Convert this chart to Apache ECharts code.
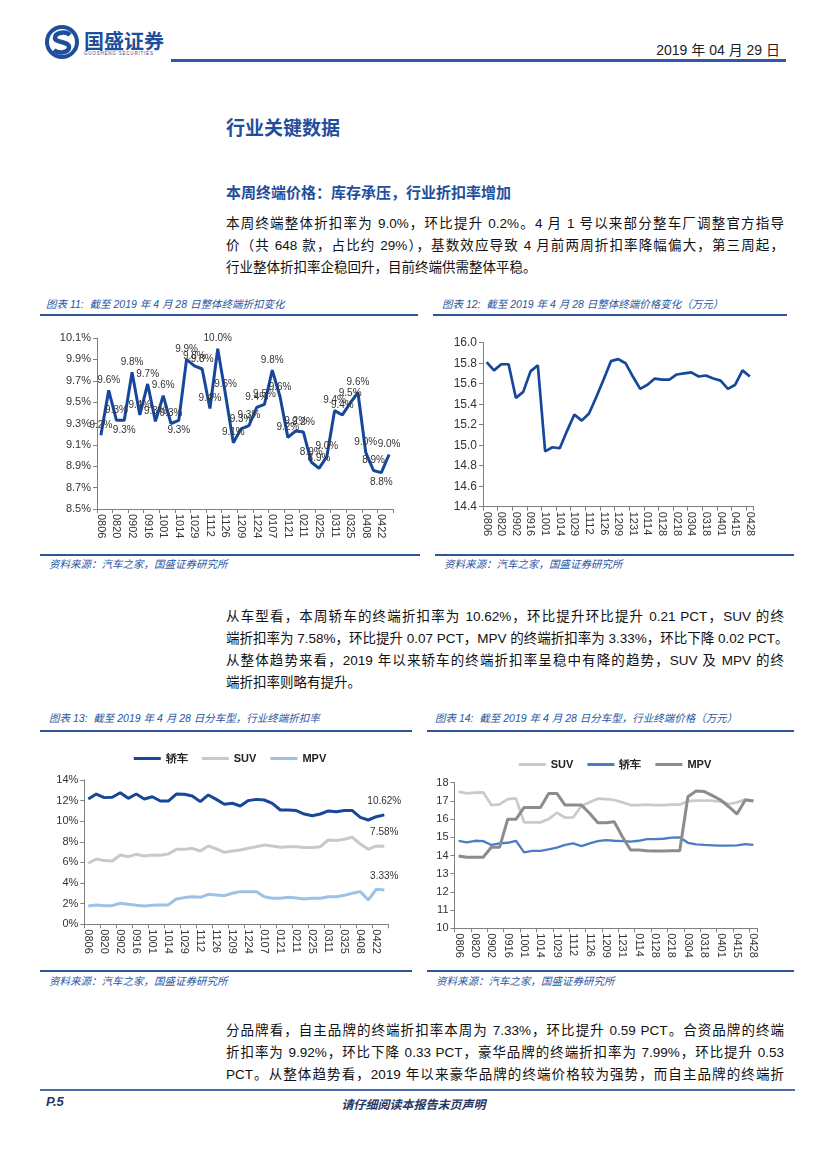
<!DOCTYPE html>
<html><head><meta charset="utf-8">
<script src="https://cdn.jsdelivr.net/npm/echarts@6/dist/echarts.min.js"></script>
<style>
html,body{margin:0;padding:0;background:#fff;}
body{width:827px;height:1169px;position:relative;overflow:hidden;font-family:"Liberation Sans","Noto Sans CJK SC",sans-serif;color:#111;}
.abs{position:absolute;}
.h1{left:226px;top:113px;font-size:19px;font-weight:bold;color:#1f4e9c;font-family:"Noto Sans CJK SC",sans-serif;}
.h2{left:226px;top:181px;font-size:15px;font-weight:bold;color:#1f4e9c;font-family:"Noto Sans CJK SC",sans-serif;}
.para{left:226px;width:558px;font-size:13.5px;line-height:22px;}
.para div{text-align:justify;text-align-last:justify;height:22px;white-space:nowrap;}
.para div.last{text-align-last:left;}
.cap{font-size:10.5px;font-style:italic;color:#2a56a0;font-family:"Liberation Sans","Noto Sans CJK SC",sans-serif;}
.src{font-size:10.5px;font-style:italic;color:#2a56a0;}
.line{height:2px;background:#2f5597;}
.chart{position:absolute;}
</style></head><body>

<svg class="abs" style="left:44px;top:24px" width="38" height="38" viewBox="0 0 38 38">
 <circle cx="18" cy="18" r="15" fill="none" stroke="#1f4e9c" stroke-width="4"/>
 <path d="M26 11 C22 7,11 8,11 14 C11 19,25 17,25 23 C25 29,14 30,10 26" fill="none" stroke="#1f4e9c" stroke-width="4.5"/>
</svg>
<div class="abs" style="left:84px;top:26px;font-size:20px;font-weight:bold;color:#1f4e9c;font-family:'Noto Sans CJK SC';letter-spacing:0px;">国盛证券</div>
<div class="abs" style="left:84px;top:51px;font-size:4.5px;color:#1f4e9c;letter-spacing:0.8px;">GUOSHENG SECURITIES</div>
<div class="abs" style="right:47px;top:39px;font-size:14px;color:#222;">2019 年 04 月 29 日</div>
<div class="abs" style="left:171px;top:59px;width:615px;height:3px;background:#2d5aa6;"></div>

<div class="abs h1">行业关键数据</div>
<div class="abs h2">本周终端价格：库存承压，行业折扣率增加</div>

<div class="abs para" style="top:213px;">
<div>本周终端整体折扣率为 9.0%，环比提升 0.2%。4 月 1 号以来部分整车厂调整官方指导</div>
<div>价（共 648 款，占比约 29%），基数效应导致 4 月前两周折扣率降幅偏大，第三周起，</div>
<div class="last">行业整体折扣率企稳回升，目前终端供需整体平稳。</div>
</div>

<div class="abs cap" style="left:46px;top:296px;">图表 11:&nbsp; 截至 2019 年 4 月 28 日整体终端折扣变化</div>
<div class="abs line" style="left:40px;top:314px;width:378px;"></div>
<div class="abs cap" style="left:442px;top:296px;">图表 12:&nbsp; 截至 2019 年 4 月 28 日整体终端价格变化（万元）</div>
<div class="abs line" style="left:433px;top:314px;width:354px;"></div>

<div id="c1" class="chart" style="left:40px;top:320px;width:380px;height:232px;"></div>
<div id="c2" class="chart" style="left:430px;top:320px;width:370px;height:232px;"></div>

<div class="abs line" style="left:40px;top:554px;width:380px;"></div>
<div class="abs line" style="left:435px;top:554px;width:359px;"></div>
<div class="abs src" style="left:49px;top:556px;">资料来源：汽车之家，国盛证券研究所</div>
<div class="abs src" style="left:444px;top:556px;">资料来源：汽车之家，国盛证券研究所</div>

<div class="abs para" style="top:606px;">
<div>从车型看，本周轿车的终端折扣率为 10.62%，环比提升环比提升 0.21 PCT，SUV 的终</div>
<div>端折扣率为 7.58%，环比提升 0.07 PCT，MPV 的终端折扣率为 3.33%，环比下降 0.02 PCT。</div>
<div>从整体趋势来看，2019 年以来轿车的终端折扣率呈稳中有降的趋势，SUV 及 MPV 的终</div>
<div class="last">端折扣率则略有提升。</div>
</div>

<div class="abs cap" style="left:49px;top:710px;">图表 13:&nbsp; 截至 2019 年 4 月 28 日分车型，行业终端折扣率</div>
<div class="abs line" style="left:40px;top:730px;width:372px;"></div>
<div class="abs cap" style="left:435px;top:710px;">图表 14:&nbsp; 截至 2019 年 4 月 28 日分车型，行业终端价格（万元）</div>
<div class="abs line" style="left:427px;top:730px;width:367px;"></div>

<div id="c3" class="chart" style="left:40px;top:740px;width:380px;height:228px;"></div>
<div id="c4" class="chart" style="left:430px;top:740px;width:370px;height:228px;"></div>

<div class="abs line" style="left:40px;top:970px;width:372px;"></div>
<div class="abs line" style="left:427px;top:970px;width:367px;"></div>
<div class="abs src" style="left:49px;top:973px;">资料来源：汽车之家，国盛证券研究所</div>
<div class="abs src" style="left:436px;top:973px;">资料来源：汽车之家，国盛证券研究所</div>

<div class="abs para" style="top:1020px;">
<div>分品牌看，自主品牌的终端折扣率本周为 7.33%，环比提升 0.59 PCT。合资品牌的终端</div>
<div>折扣率为 9.92%，环比下降 0.33 PCT，豪华品牌的终端折扣率为 7.99%，环比提升 0.53</div>
<div>PCT。从整体趋势看，2019 年以来豪华品牌的终端价格较为强势，而自主品牌的终端折</div>
</div>

<div class="abs" style="left:40px;top:1089px;width:755px;height:1.5px;background:#4a6fa8;"></div>
<div class="abs" style="left:46px;top:1094px;font-size:13px;font-weight:bold;font-style:italic;color:#1f3864;">P.5</div>
<div class="abs" style="left:0;width:827px;text-align:center;top:1095px;font-size:12px;font-weight:bold;font-style:italic;color:#1f3864;font-family:'Noto Sans CJK SC';">请仔细阅读本报告末页声明</div>

<script>
// ---------- data ----------
const dates38 = ['0806','0813','0820','0827','0902','0909','0916','0923','1001','1008','1014','1022','1029','1105','1112','1119','1126','1203','1209','1216','1224','1231','0107','0114','0121','0128','0211','0218','0225','0304','0311','0318','0325','0401','0408','0415','0422','0428'];
const dates37 = ['0806','0813','0820','0827','0902','0909','0916','0923','1001','1008','1014','1022','1029','1105','1112','1119','1126','1203','1209','1216','1231','0107','0114','0121','0128','0211','0218','0225','0304','0311','0318','0325','0401','0408','0415','0422','0428'];

const discountAll = [9.19,9.61,9.33,9.33,9.78,9.38,9.67,9.32,9.56,9.30,9.33,9.90,9.84,9.81,9.44,10.0,9.57,9.12,9.25,9.28,9.45,9.48,9.80,9.55,9.17,9.23,9.22,8.94,8.88,8.99,9.42,9.38,9.49,9.59,9.03,8.86,8.84,9.01];
const discountLabelBelow = [3,10,36];

const priceAll = [15.81,15.73,15.79,15.79,15.46,15.52,15.72,15.78,14.94,14.98,14.97,15.14,15.30,15.24,15.31,15.47,15.64,15.82,15.84,15.80,15.67,15.55,15.59,15.65,15.64,15.64,15.69,15.70,15.71,15.67,15.68,15.65,15.63,15.55,15.59,15.73,15.67];

const discSedan = [12.16,12.64,12.29,12.32,12.77,12.22,12.64,12.16,12.38,11.96,11.96,12.64,12.61,12.45,11.90,12.55,12.12,11.64,11.74,11.48,12.00,12.12,12.06,11.74,11.09,11.09,11.03,10.70,10.54,10.70,11.00,10.93,11.03,11.03,10.38,10.12,10.44,10.62];
const discSUV = [5.92,6.34,6.18,6.14,6.73,6.56,6.79,6.63,6.73,6.69,6.82,7.27,7.27,7.37,7.11,7.60,7.31,6.98,7.11,7.21,7.37,7.53,7.70,7.60,7.47,7.53,7.53,7.44,7.44,7.53,8.18,8.12,8.25,8.44,7.79,7.27,7.60,7.58];
const discMPV = [1.78,1.88,1.81,1.81,2.04,1.94,1.84,1.78,1.84,1.88,1.88,2.46,2.59,2.68,2.62,2.91,2.85,2.78,3.01,3.17,3.17,3.17,2.68,2.52,2.52,2.62,2.55,2.46,2.52,2.52,2.68,2.68,2.81,3.01,3.17,2.36,3.40,3.33];

const priceSUV = [17.51,17.41,17.45,17.47,16.77,16.81,17.10,17.14,15.82,15.82,15.82,16.00,16.35,16.08,16.10,16.72,16.92,17.12,17.10,17.05,16.92,16.77,16.77,16.79,16.77,16.77,16.79,16.79,16.99,17.01,17.01,17.01,16.96,16.83,16.92,17.08,17.01];
const priceSedan = [14.81,14.72,14.81,14.79,14.58,14.67,14.70,14.81,14.17,14.25,14.25,14.34,14.43,14.58,14.67,14.52,14.67,14.79,14.85,14.81,14.79,14.76,14.81,14.90,14.90,14.92,14.98,15.00,14.70,14.61,14.58,14.56,14.54,14.54,14.56,14.63,14.58];
const priceMPV = [13.97,13.90,13.90,13.90,14.45,14.45,15.99,15.99,16.64,16.64,16.64,17.41,17.41,16.77,16.77,16.77,16.32,15.80,15.80,15.86,15.03,14.30,14.30,14.26,14.25,14.25,14.26,14.26,17.23,17.54,17.51,17.29,17.05,16.68,16.28,17.05,16.99];

// ---------- common ----------
const FONT = 'Liberation Sans';
function xAxis(cats){
  return {type:'category',data:cats,boundaryGap:true,
    axisLine:{lineStyle:{color:'#808080',width:1}},
    axisTick:{show:true,interval:1,length:4,lineStyle:{color:'#808080'}},
    axisLabel:{interval:1,rotate:-90,fontSize:11,color:'#333',fontFamily:FONT,margin:5}};
}
function yAxis(min,max,interval,fmt,fs){
  return {type:'value',min:min,max:max,interval:interval,
    axisLine:{show:true,lineStyle:{color:'#808080'}},
    axisTick:{show:true,length:4,lineStyle:{color:'#808080'}},
    splitLine:{show:false},
    axisLabel:{formatter:fmt,fontSize:fs||11,color:'#333',fontFamily:FONT,margin:6}};
}

// ---------- chart 1 ----------
const c1 = echarts.init(document.getElementById('c1'));
c1.setOption({animation:false,
  grid:{left:57,top:18,width:296,height:171},
  xAxis:xAxis(dates38),
  yAxis:yAxis(8.5,10.1,0.2,v=>v.toFixed(1)+'%'),
  series:[{type:'line',data:discountAll.map((v,i)=>({value:v,label:{position:discountLabelBelow.includes(i)?'bottom':'top'}})),
    symbol:'circle',symbolSize:0.01,showSymbol:true,lineStyle:{color:'#17479a',width:3},itemStyle:{color:'#17479a'},
    label:{show:true,formatter:p=>Number(p.value).toFixed(1)+'%',fontSize:10,color:'#333',fontFamily:FONT,distance:5},
    labelLayout:{hideOverlap:false}}]
});

// ---------- chart 2 ----------
const c2 = echarts.init(document.getElementById('c2'));
c2.setOption({animation:false,
  grid:{left:53,top:22.7,width:270.5,height:164},
  xAxis:xAxis(dates37),
  yAxis:yAxis(14.4,16.0,0.2,v=>v.toFixed(1),12),
  series:[{type:'line',data:priceAll,symbol:'none',lineStyle:{color:'#17479a',width:2.7}}]
});

// ---------- chart 3 ----------
const c3 = echarts.init(document.getElementById('c3'));
function endLabel(arr){return {show:true,position:'top',distance:9,fontSize:10,color:'#333',fontFamily:FONT,
  formatter:p=>p.dataIndex===arr.length-1?arr[p.dataIndex].toFixed(2)+'%':''};}
function s3(name,arr,color){
  return {name:name,type:'line',data:arr,symbol:'circle',symbolSize:0.01,showSymbol:true,
    lineStyle:{color:color,width:3},itemStyle:{color:color},label:endLabel(arr)};
}
c3.setOption({animation:false,
  legend:{top:8,left:'center',itemWidth:27,itemHeight:3,itemGap:14,icon:'rect',
    textStyle:{fontSize:11,color:'#222',fontFamily:FONT,fontWeight:'bold'},
    data:['轿车','SUV','MPV']},
  grid:{left:44.3,top:40,width:304,height:144.3},
  xAxis:xAxis(dates38),
  yAxis:yAxis(0,14,2,'{value}%'),
  series:[ s3('轿车',discSedan,'#17479a'), s3('SUV',discSUV,'#c9c9c9'), s3('MPV',discMPV,'#9cc2e5') ]
});

// ---------- chart 4 ----------
const c4 = echarts.init(document.getElementById('c4'));
c4.setOption({animation:false,
  legend:{top:14,left:'center',itemWidth:27,itemHeight:3,itemGap:14,icon:'rect',
    textStyle:{fontSize:11,color:'#222',fontFamily:FONT,fontWeight:'bold'},
    data:['SUV','轿车','MPV']},
  grid:{left:24.5,top:42.7,width:303,height:145.6},
  xAxis:xAxis(dates37),
  yAxis:yAxis(10,18,1,'{value}'),
  series:[
    {name:'SUV',type:'line',data:priceSUV,symbol:'none',lineStyle:{color:'#cacaca',width:2.7},itemStyle:{color:'#cacaca'}},
    {name:'轿车',type:'line',data:priceSedan,symbol:'none',lineStyle:{color:'#4a7ec4',width:2.3},itemStyle:{color:'#4a7ec4'}},
    {name:'MPV',type:'line',data:priceMPV,symbol:'none',lineStyle:{color:'#8c8c8c',width:3},itemStyle:{color:'#8c8c8c'}}
  ]
});
</script>
</body></html>
